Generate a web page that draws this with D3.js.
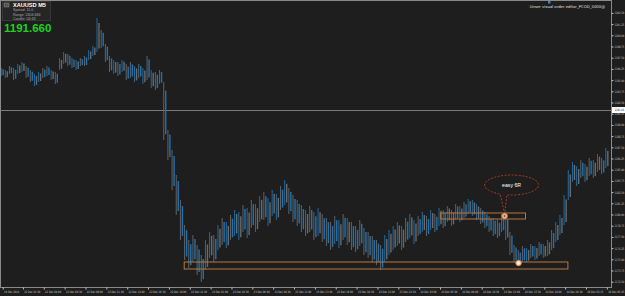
<!DOCTYPE html>
<html><head><meta charset="utf-8">
<script src="https://cdn.jsdelivr.net/npm/d3@7/dist/d3.min.js"></script>
<style>html,body{margin:0;padding:0;background:#1e1e1e;overflow:hidden}svg{display:block}</style>
</head><body><svg id="c" width="625" height="296"></svg>
<script>
// ---------- data ----------
const symbol = "XAUUSD", timeframe = "M5";
const infoLines = ["Spread: 11.0", "Range: 2404.684", "Candle: 04:43"];
const lastPrice = 1191.66;
const indicatorName = "Unser visual order editor_PCOD_5000@";

// each column = 6 M5 bars (30 min); highs / lows
const highs = [1196.35,1196.13,1196.57,1196.35,1196.80,1197.02,1196.57,1196.13,1195.68,1195.91,
1196.35,1196.57,1196.13,1195.91,1197.47,1198.14,1197.91,1197.47,1197.24,1197.47,
1197.69,1198.36,1198.81,1201.93,1200.59,1199.03,1197.69,1197.24,1197.02,1197.24,
1196.80,1197.02,1196.57,1196.80,1196.35,1197.69,1196.13,1195.91,1196.13,1194.79,
1189.43,1187.20,1184.41,1181.62,1178.83,1177.16,1177.71,1176.60,1175.48,1177.16,
1178.05,1177.71,1178.83,1179.61,1179.17,1179.95,1180.50,1180.28,1181.06,1180.73,
1181.62,1181.17,1182.07,1182.51,1181.84,1182.74,1182.29,1183.18,1183.85,1182.96,
1182.18,1181.62,1181.06,1180.50,1180.95,1180.28,1180.73,1180.06,1179.61,1179.17,
1179.83,1179.39,1180.06,1179.61,1179.17,1178.72,1179.39,1178.50,1178.05,1177.60,
1177.16,1176.60,1177.71,1178.27,1178.72,1179.17,1178.72,1179.61,1180.06,1179.39,
1179.83,1180.28,1179.83,1180.50,1180.06,1180.73,1180.50,1180.95,1180.50,1181.17,
1180.95,1181.40,1181.73,1181.62,1181.17,1180.73,1180.28,1179.83,1179.61,1179.39,
1180.06,1179.83,1178.05,1176.60,1176.04,1176.49,1176.26,1176.71,1176.49,1176.93,
1176.71,1177.16,1178.27,1179.17,1179.95,1182.18,1184.97,1185.86,1185.41,1186.08,
1185.64,1186.31,1186.08,1186.75,1186.31,1187.42];
const lows = [1195.46,1195.24,1195.68,1195.01,1195.68,1195.91,1195.24,1194.79,1194.34,1194.79,
1195.24,1195.46,1195.01,1194.57,1196.13,1196.80,1196.57,1196.35,1196.13,1196.57,
1196.57,1197.24,1197.69,1198.14,1198.58,1197.02,1195.91,1195.68,1195.46,1195.91,
1195.01,1195.24,1194.79,1195.24,1194.57,1195.01,1194.12,1193.90,1194.57,1188.32,
1186.08,1182.74,1179.95,1177.16,1174.92,1174.03,1174.70,1173.25,1172.47,1173.81,
1175.15,1174.70,1176.04,1176.60,1176.26,1177.16,1177.60,1177.16,1178.05,1177.38,
1178.50,1178.05,1179.17,1179.39,1178.72,1179.83,1179.39,1180.50,1181.06,1180.06,
1179.17,1178.72,1178.05,1177.60,1178.05,1177.16,1177.60,1176.93,1176.49,1176.04,
1176.71,1176.26,1177.16,1176.60,1176.04,1175.82,1176.49,1175.48,1175.15,1174.70,
1174.37,1173.81,1174.70,1175.48,1176.04,1176.49,1176.04,1176.93,1177.38,1176.71,
1177.60,1178.05,1177.60,1178.27,1178.05,1178.72,1178.50,1179.17,1178.72,1179.39,
1179.17,1179.61,1180.06,1179.83,1179.39,1178.94,1178.50,1178.05,1177.60,1177.38,
1178.05,1177.16,1175.48,1174.70,1174.25,1174.70,1174.70,1175.15,1174.92,1175.37,
1175.15,1175.37,1176.04,1176.93,1177.71,1178.83,1181.62,1183.63,1183.18,1184.08,
1183.63,1184.30,1184.08,1184.75,1184.52,1185.19];
// d = bearish (blue), u = bullish (grey)
const dirs = "dudduudduuddud" + "uuddudduu" + "udddududdudududd" + "dddddddddd" +
             "uudududuududuuduuudu" + "ddddudduddddududdddddddu" + "uuuuduududududuududuuu" +
             "ddddddudddd" + "ududuuduuu" + "uuududuuduu";

const priceTicks = [1202.50,1201.25,1200.00,1198.75,1197.50,1196.25,1195.00,1193.75,1192.50,
  1191.25,1190.00,1188.75,1187.50,1186.25,1185.00,1183.75,1182.50,1181.25,1180.00,1178.75,
  1177.50,1176.25,1175.00,1173.75,1172.50];

const timeLabels = ["19 Dec 2014","22 Dec 01:30","22 Dec 04:00","22 Dec 06:30","22 Dec 09:00",
  "22 Dec 11:30","22 Dec 14:00","22 Dec 16:30","22 Dec 19:00","22 Dec 21:30","23 Dec 01:00",
  "23 Dec 03:30","23 Dec 06:00","23 Dec 08:30","23 Dec 11:00","23 Dec 13:30","23 Dec 16:00",
  "23 Dec 18:30","23 Dec 21:00","23 Dec 23:30","24 Dec 03:00","24 Dec 05:30","24 Dec 08:00",
  "24 Dec 10:30","24 Dec 13:00","24 Dec 15:30","24 Dec 18:00","24 Dec 20:30","26 Dec 03:15",
  "26 Dec 05:45"];
const timeLabelBars = [4,33,63,93,123,153,183,213,243,273,303,333,363,393,423,453,483,513,543,
  573,603,633,663,693,723,753,783,813,843,873];

// annotations (bar index, price)
const upperZone = {bar0: 634, bar1: 756, top: 1180.17, bottom: 1179.50};
const lowerZone = {bar0: 265, bar1: 817, top: 1174.70, bottom: 1173.92};
const callout = {bar: 736, price: 1183.29, text: "easy 6R", tipBar: 726, tipPrice: 1180.06};
const markers = [{bar: 726, price: 1179.83, kind: "entry"}, {bar: 746, price: 1174.59, kind: "target"}];

// ---------- drawing ----------
const W = 625, H = 296, PR = 611, PB = 287;
const svg = d3.select("#c");
const x = d3.scaleLinear().domain([0, 879]).range([0, PR]);
const y = d3.scaleLinear().domain([1171.91, 1203.94]).range([PB, 0]);
const BLUE = "#2173b0", GREY = "#6a6a6a";

svg.append("rect").attr("width", W).attr("height", H).attr("fill", "#1e1e1e");

const plot = svg.append("g");
plot.append("defs").append("clipPath").attr("id", "clip")
  .append("rect").attr("x", 0).attr("y", 0).attr("width", PR).attr("height", PB);
const g = plot.append("g").attr("clip-path", "url(#clip)");

// current price line
g.append("line").attr("x1", 0).attr("x2", PR)
  .attr("y1", Math.round(y(lastPrice)) + 0.5).attr("y2", Math.round(y(lastPrice)) + 0.5)
  .attr("stroke", "#7a7a7a").attr("stroke-width", 1);

// candle columns
const cols = highs.map((h, i) => ({i, h, l: lows[i], d: dirs[i] || "d"}));
g.selectAll("line.wick").data(cols).join("line").attr("class", "wick")
  .attr("x1", d => x(6 * d.i + 3) - 1).attr("x2", d => x(6 * d.i + 3) - 1)
  .attr("y1", d => y(d.h)).attr("y2", d => y(d.l))
  .attr("stroke", d => d.d === "d" ? GREY : BLUE).attr("stroke-width", 0.9);
g.selectAll("line.body").data(cols).join("line").attr("class", "body")
  .attr("x1", d => x(6 * d.i + 3) + 1).attr("x2", d => x(6 * d.i + 3) + 1)
  .attr("y1", d => y(d.h) + (y(d.l) - y(d.h)) * 0.15).attr("y2", d => y(d.l) - (y(d.l) - y(d.h)) * 0.1)
  .attr("stroke", d => d.d === "d" ? BLUE : GREY).attr("stroke-width", 1.4);

// zones
const ORANGE = "#b9773e";
[upperZone, lowerZone].forEach(z => {
  g.append("rect").attr("x", x(z.bar0)).attr("y", y(z.top))
    .attr("width", x(z.bar1) - x(z.bar0)).attr("height", y(z.bottom) - y(z.top))
    .attr("fill", "none").attr("stroke", ORANGE).attr("stroke-width", 1);
});

// callout ellipse with tail
{
  const cx = x(callout.bar), cy = y(callout.price), rx = 27, ry = 10;
  const p = a => [cx + rx * Math.cos(a * Math.PI / 180), cy + ry * Math.sin(a * Math.PI / 180)];
  const a1 = p(115), a2 = p(100);
  const tx = x(callout.tipBar), ty = y(callout.tipPrice);
  g.append("path")
    .attr("d", `M${tx},${ty} L${a1[0]},${a1[1]} A${rx},${ry} 0 1 1 ${a2[0]},${a2[1]} Z`)
    .attr("fill", "none").attr("stroke", "#a8382a").attr("stroke-width", 1)
    .attr("stroke-dasharray", "2,1.5");
  g.append("text").attr("x", cx).attr("y", cy + 1.8).attr("text-anchor", "middle")
    .attr("font-family", "Liberation Sans, Arial, sans-serif").attr("font-size", 5.2)
    .attr("fill", "#ffffff").text(callout.text);
}

// markers
markers.forEach(m => {
  const mx = x(m.bar), my = y(m.price);
  g.append("circle").attr("cx", mx).attr("cy", my).attr("r", 2.8)
    .attr("fill", m.kind === "entry" ? "#d9c3a8" : "#f2d9b5").attr("stroke", "#d08040").attr("stroke-width", 0.8);
  g.append("circle").attr("cx", mx).attr("cy", my).attr("r", 1)
    .attr("fill", m.kind === "entry" ? "#d03020" : "#ffffff");
});

// frame
svg.append("rect").attr("x", 0.5).attr("y", 0.5).attr("width", PR).attr("height", PB)
  .attr("fill", "none").attr("stroke", "#8a8a8a").attr("stroke-width", 1);

// price axis
const yAxis = d3.axisRight(y).tickValues(priceTicks).tickSize(2).tickPadding(1)
  .tickFormat(d3.format(".2f"));
const ya = svg.append("g").attr("transform", `translate(${PR + 0.5},0)`).call(yAxis);
ya.select(".domain").remove();
ya.selectAll("line").attr("stroke", "#bdbdbd");
ya.selectAll("text").attr("fill", "#cfcfcf").attr("font-size", 3.2)
  .attr("font-family", "DejaVu Sans, sans-serif")
  .attr("x", 0).attr("transform", "translate(3,0) scale(0.74,1)");

// current price label
const ly = y(lastPrice);
svg.append("rect").attr("x", PR + 1).attr("y", ly - 3).attr("width", W - PR - 1).attr("height", 6)
  .attr("fill", "#ffffff");
svg.append("text").attr("x", 0).attr("y", 0).attr("font-size", 3.2)
  .attr("transform", `translate(${PR + 3.5},${ly + 1.2}) scale(0.74,1)`)
  .attr("font-family", "DejaVu Sans, sans-serif").attr("fill", "#000").text(lastPrice.toFixed(2));

// time axis
const xAxis = d3.axisBottom(x).tickValues(timeLabelBars).tickSize(2).tickPadding(1)
  .tickFormat((d, i) => timeLabels[i]);
const xa = svg.append("g").attr("transform", `translate(0,${PB + 0.5})`).call(xAxis);
xa.select(".domain").remove();
xa.selectAll("line").attr("stroke", "#bdbdbd");
xa.selectAll("text").attr("fill", "#cfcfcf").attr("font-size", 3.0).attr("text-anchor", "start")
  .attr("font-family", "DejaVu Sans, sans-serif").attr("dx", 0)
  .attr("transform", "translate(0.8,0) scale(0.8,1)");

// info panel
svg.append("rect").attr("x", 2.5).attr("y", 1.5).attr("width", 48).attr("height", 19)
  .attr("fill", "#262626").attr("stroke", "#3c3c3c").attr("stroke-width", 0.8);
svg.append("rect").attr("x", 4).attr("y", 3).attr("width", 5).attr("height", 4)
  .attr("fill", "#555").attr("stroke", "#888").attr("stroke-width", 0.5);
svg.append("text").attr("x", 13).attr("y", 7.3).attr("font-family", "Liberation Sans, Arial, sans-serif")
  .attr("font-weight", "bold").attr("font-size", 5.6).attr("fill", "#ffffff")
  .text(symbol + "  " + timeframe);
infoLines.forEach((t, i) => {
  svg.append("text").attr("x", 13).attr("y", 11.4 + i * 4.1)
    .attr("font-family", "Liberation Sans, Arial, sans-serif").attr("font-size", 3.6)
    .attr("fill", "#a8a8a8").text(t);
});
svg.append("text").attr("x", 4).attr("y", 31.5).attr("font-family", "Liberation Sans, Arial, sans-serif")
  .attr("font-weight", "bold").attr("font-size", 11.5).attr("fill", "#1fd11f")
  .text(lastPrice.toFixed(3));

// indicator title
svg.append("rect").attr("x", 548).attr("y", 1).attr("width", 2.5).attr("height", 2.5).attr("fill", "#4a7fb5");
svg.append("text").attr("x", 605).attr("y", 8).attr("text-anchor", "end")
  .attr("font-family", "DejaVu Sans, sans-serif").attr("font-size", 3.8).attr("fill", "#e0e0e0")
  .text(indicatorName);
</script></body></html>
